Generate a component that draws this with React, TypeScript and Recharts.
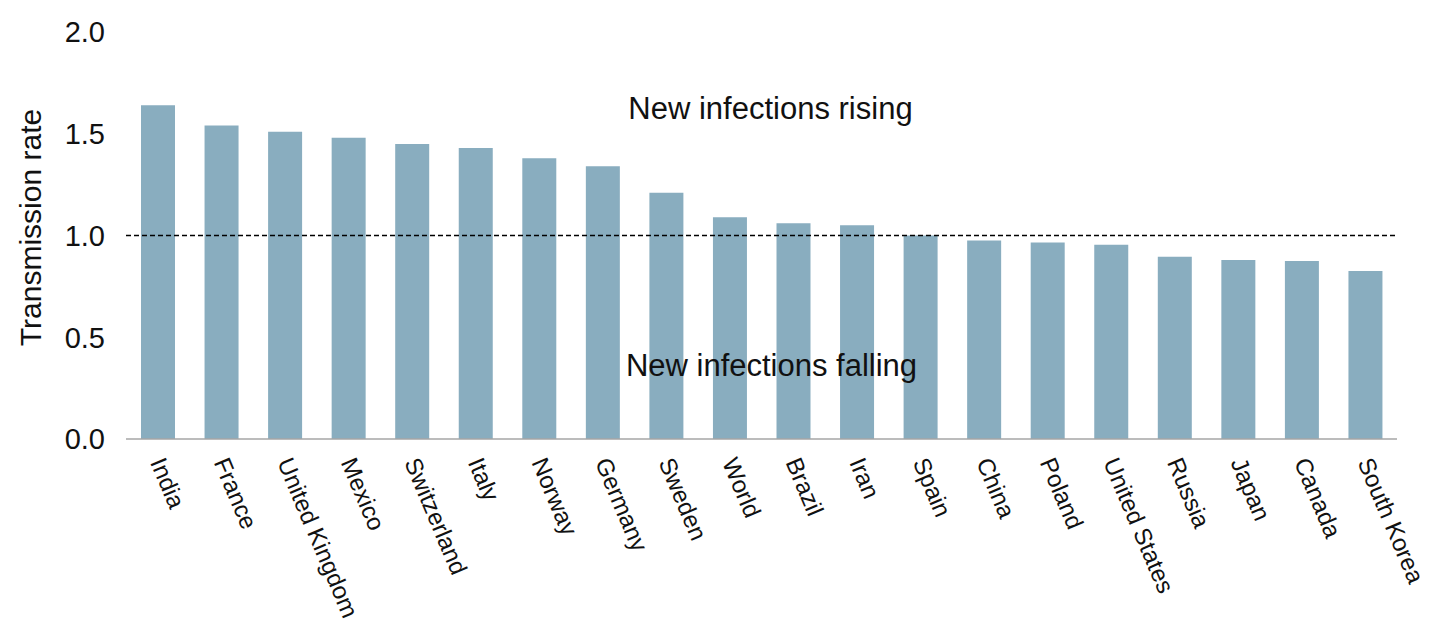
import React from 'react';
import {
  BarChart,
  Bar,
  XAxis,
  YAxis,
  ReferenceLine,
} from 'recharts';

const countries = [
  'India', 'France', 'United Kingdom', 'Mexico', 'Switzerland', 'Italy', 'Norway',
  'Germany', 'Sweden', 'World', 'Brazil', 'Iran', 'Spain', 'China', 'Poland',
  'United States', 'Russia', 'Japan', 'Canada', 'South Korea',
];

const rates = [
  1.64, 1.54, 1.51, 1.48, 1.45, 1.43, 1.38, 1.34, 1.21, 1.09,
  1.06, 1.05, 1.0, 0.975, 0.965, 0.955, 0.895, 0.88, 0.875, 0.825,
];

const yTicks = [0, 0.5, 1.0, 1.5, 2.0];

const data = countries.map((name, i) => ({ name, rate: rates[i] }));

const FONT = '"Liberation Sans", Arial, sans-serif';
const BAR_COLOR = '#89adbf';

// rotated country names, reading downwards to the right
const CountryTick = ({ x, y, payload }: any) => (
  <text
    x={x}
    y={y + 12}
    transform={`rotate(67, ${x}, ${y + 12})`}
    textAnchor="start"
    dy="0.36em"
    fontFamily={FONT}
    fontSize={24}
    fill="#111"
  >
    {payload.value}
  </text>
);

export default function App() {
  return (
    <div style={{ position: 'absolute', left: 0, top: 0, background: '#fff' }}>
      <BarChart
        width={1430}
        height={631}
        data={data}
        margin={{ top: 32, right: 33, left: 0, bottom: 0 }}
        barCategoryGap={0}
      >
        <XAxis
          dataKey="name"
          interval={0}
          height={192}
          tickLine={false}
          axisLine={{ stroke: '#a6a6a6', strokeWidth: 1.5 }}
          tick={<CountryTick />}
        />
        <YAxis
          width={126}
          domain={[0, 2]}
          ticks={yTicks}
          tickFormatter={(v: number) => v.toFixed(1)}
          axisLine={false}
          tickLine={false}
          tickMargin={15}
          tick={{ fontSize: 29, fill: '#111', fontFamily: FONT }}
          label={{
            value: 'Transmission rate',
            angle: -90,
            position: 'insideLeft',
            offset: 30,
            dy: -8,
            style: { textAnchor: 'middle', fontSize: 30, fill: '#111', fontFamily: FONT },
          }}
        />
        <Bar dataKey="rate" fill={BAR_COLOR} barSize={34} isAnimationActive={false} />
        <ReferenceLine
          y={1}
          stroke="#000"
          strokeWidth={1.6}
          strokeDasharray="5 3"
        />
        <ReferenceLine
          y={1.628}
          stroke="none"
          label={{
            value: 'New infections rising',
            position: 'center',
            dx: 9,
            fontSize: 31,
            fill: '#111',
            fontFamily: FONT,
          }}
        />
        <ReferenceLine
          y={0.362}
          stroke="none"
          label={{
            value: 'New infections falling',
            position: 'center',
            dx: 10,
            fontSize: 31,
            fill: '#111',
            fontFamily: FONT,
          }}
        />
      </BarChart>
    </div>
  );
}
